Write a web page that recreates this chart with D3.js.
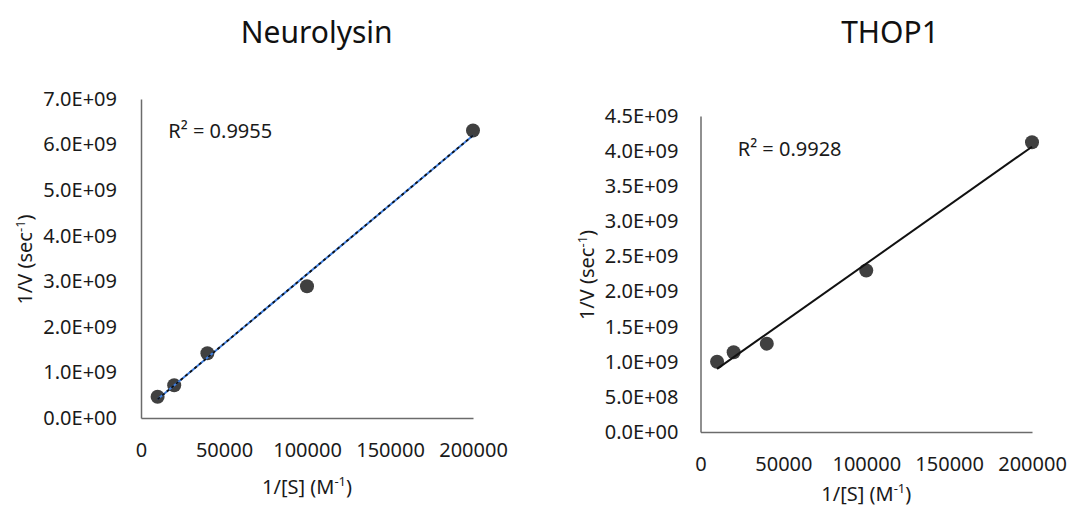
<!DOCTYPE html>
<html>
<head>
<meta charset="utf-8">
<script src="https://cdn.jsdelivr.net/npm/d3@7"></script>
<style>
  html, body { margin: 0; padding: 0; background: #fff; }
  svg { display: block; font-family: "Noto Sans", "Open Sans", sans-serif; }
  .axis path { stroke: #6b6b6b; stroke-width: 1.5; }
  .axis text { fill: #1a1a1a; font-size: 20px; font-family: "Noto Sans", "Open Sans", sans-serif; }
</style>
</head>
<body>
<svg id="chart" width="1085" height="510"></svg>
<script>
// Lineweaver–Burk data: 1/[S] (M^-1) against 1/V (sec^-1)
const substrateInv = [10000, 20000, 40000, 100000, 200000];
const neurolysinRate = [0.467e9, 0.72e9, 1.42e9, 2.89e9, 6.31e9];
const thop1Rate = [1.0e9, 1.135e9, 1.258e9, 2.30e9, 4.127e9];

const xTickValues = [0, 50000, 100000, 150000, 200000];
const neurolysinYTicks = [0, 1e9, 2e9, 3e9, 4e9, 5e9, 6e9, 7e9];
const thop1YTicks = [0, 0.5e9, 1e9, 1.5e9, 2e9, 2.5e9, 3e9, 3.5e9, 4e9, 4.5e9];

const titles = ["Neurolysin", "THOP1"];
const r2Labels = ["0.9955", "0.9928"];

const svg = d3.select("#chart");

// Excel-style scientific tick text, e.g. 7.0E+09
function sci(v) {
  if (v === 0) return "0.0E+00";
  const e = Math.floor(Math.log10(Math.abs(v)) + 1e-9);
  const m = v / Math.pow(10, e);
  const sign = e < 0 ? "-" : "+";
  return m.toFixed(1) + "E" + sign + String(Math.abs(e)).padStart(2, "0");
}

// Least-squares line through the points
function fit(xs, ys) {
  const n = xs.length;
  const mx = d3.mean(xs), my = d3.mean(ys);
  let sxy = 0, sxx = 0;
  for (let i = 0; i < n; i++) { sxy += (xs[i] - mx) * (ys[i] - my); sxx += (xs[i] - mx) ** 2; }
  const slope = sxy / sxx;
  return { slope, intercept: my - slope * mx };
}

const panels = [
  { title: titles[0], ys: neurolysinRate, yTicks: neurolysinYTicks, yMax: 7e9, r2: r2Labels[0],
    left: 141, right: 473, top: 99, bottom: 418, titleX: 316.7, titleY: 43,
    yPad: 24, xPad: 24.8, yTitleX: 25, xTitleY: 494, r2X: 168.3, r2Y: 137.5, dashed: true },
  { title: titles[1], ys: thop1Rate, yTicks: thop1YTicks, yMax: 4.5e9, r2: r2Labels[1],
    left: 700.5, right: 1032, top: 116, bottom: 432, titleX: 890, titleY: 43,
    yPad: 22, xPad: 24.3, yTitleX: 587, xTitleY: 501, r2X: 737.7, r2Y: 156, dashed: false }
];

panels.forEach(p => {
  const g = svg.append("g");
  const x = d3.scaleLinear().domain([0, 200000]).range([p.left, p.right]);
  const y = d3.scaleLinear().domain([0, p.yMax]).range([p.bottom, p.top]);

  // Title
  g.append("text")
    .attr("x", p.titleX).attr("y", p.titleY)
    .attr("text-anchor", "middle")
    .attr("font-size", 30).attr("fill", "#111")
    .text(p.title);

  // Axes
  g.append("g").attr("class", "axis")
    .attr("transform", `translate(${p.left},0)`)
    .call(d3.axisLeft(y).tickValues(p.yTicks).tickFormat(sci)
      .tickSizeInner(0).tickSizeOuter(0).tickPadding(p.yPad))
    .call(a => a.selectAll(".tick line").remove());

  g.append("g").attr("class", "axis")
    .attr("transform", `translate(0,${p.bottom})`)
    .call(d3.axisBottom(x).tickValues(xTickValues).tickFormat(d3.format("d"))
      .tickSizeInner(0).tickSizeOuter(0).tickPadding(p.xPad))
    .call(a => a.selectAll(".tick line").remove());

  // Axis titles
  const yt = g.append("text")
    .attr("transform", `translate(${p.yTitleX},${(p.top + p.bottom) / 2 + 1}) rotate(-90)`)
    .attr("text-anchor", "middle")
    .attr("dy", "0.35em")
    .attr("font-size", 20).attr("fill", "#1a1a1a");
  yt.append("tspan").text("1/V (sec");
  yt.append("tspan").attr("font-size", 13).attr("dy", "-0.55em").text("-1");
  yt.append("tspan").attr("dy", "0.35em").text(")");

  const xt = g.append("text")
    .attr("x", (p.left + p.right) / 2).attr("y", p.xTitleY)
    .attr("text-anchor", "middle")
    .attr("font-size", 20).attr("fill", "#1a1a1a");
  xt.append("tspan").text("1/[S] (M");
  xt.append("tspan").attr("font-size", 13).attr("dy", -8).text("-1");
  xt.append("tspan").attr("dy", 8).text(")");

  // Linear trendline across the data range
  const f = fit(substrateInv, p.ys);
  const x0 = d3.min(substrateInv), x1 = d3.max(substrateInv);
  const ends = [[x0, f.intercept + f.slope * x0], [x1, f.intercept + f.slope * x1]];
  const line = d3.line().x(d => x(d[0])).y(d => y(d[1]));

  // Points
  g.append("g").selectAll("circle")
    .data(substrateInv.map((v, i) => [v, p.ys[i]]))
    .join("circle")
    .attr("cx", d => x(d[0])).attr("cy", d => y(d[1]))
    .attr("r", 7).attr("fill", "#404040");

  if (p.dashed) {
    g.append("path").attr("d", line(ends))
      .attr("stroke", "#3f7fe0").attr("stroke-width", 2).attr("fill", "none");
    g.append("path").attr("d", line(ends))
      .attr("stroke", "#111").attr("stroke-width", 1.8).attr("fill", "none")
      .attr("stroke-dasharray", "3,3");
  } else {
    g.append("path").attr("d", line(ends))
      .attr("stroke", "#111").attr("stroke-width", 2).attr("fill", "none");
  }

  // R² annotation
  g.append("text")
    .attr("x", p.r2X).attr("y", p.r2Y)
    .attr("font-size", 20).attr("fill", "#1a1a1a")
    .text("R² = " + p.r2);
});
</script>
</body>
</html>
